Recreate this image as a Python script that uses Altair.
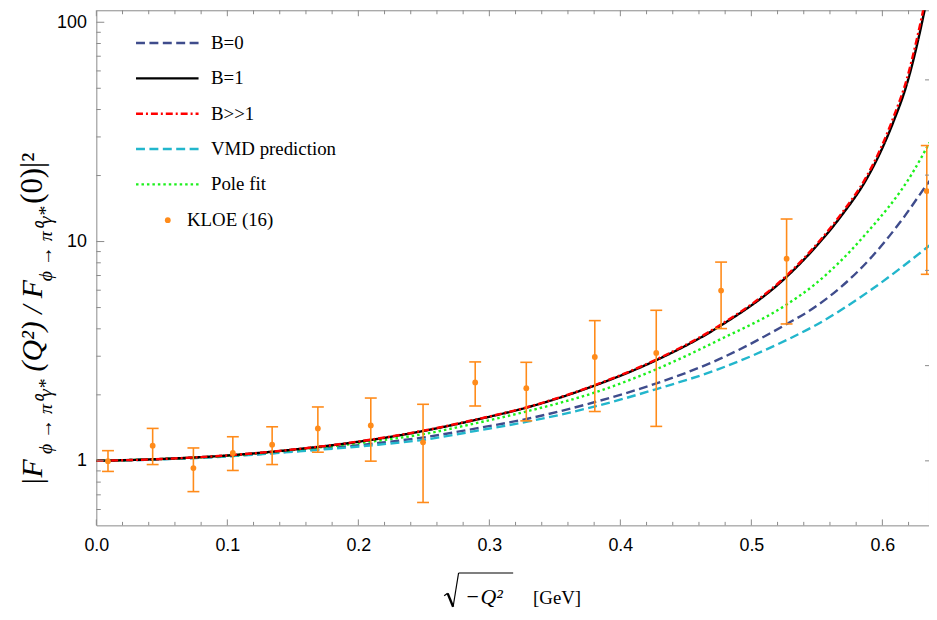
import altair as alt
import pandas as pd

# ---------------- data ----------------
series_names = ["B=0", "B=1", "B>>1", "VMD prediction", "Pole fit"]

b1_x = [0, 0.05, 0.1, 0.15, 0.2, 0.25, 0.29, 0.33, 0.38, 0.427, 0.475, 0.5267, 0.548,
        0.5695, 0.5873, 0.5991, 0.6087, 0.6188, 0.6271, 0.6327, 0.636]
b1_y = [1.0, 1.02, 1.058, 1.125, 1.222, 1.37, 1.54, 1.76, 2.2, 2.87, 4.08, 6.89, 9.3,
        13.3, 19.0, 26.0, 35.5, 52.5, 82.0, 117.0, 146.0]

bb_x = b1_x
bb_y = [1.0, 1.02, 1.059, 1.126, 1.225, 1.375, 1.545, 1.765, 2.21, 2.89, 4.12, 6.98, 9.45,
        13.6, 19.5, 26.9, 37.2, 55.5, 88.0, 126.0, 160.0]

pole_x = [0, 0.05, 0.1, 0.15, 0.215, 0.25, 0.29, 0.33, 0.38, 0.427, 0.475, 0.5267, 0.548,
          0.586, 0.6238, 0.636]
pole_y = [1.0, 1.02, 1.055, 1.12, 1.236, 1.325, 1.486, 1.689, 2.045, 2.61, 3.55, 5.15, 6.35,
          10.6, 20.95, 28.3]

b0_x = [0, 0.05, 0.1, 0.15, 0.215, 0.25, 0.29, 0.33, 0.38, 0.427, 0.475, 0.5267, 0.548,
        0.591, 0.6138, 0.634, 0.636]
b0_y = [1.0, 1.018, 1.05, 1.105, 1.206, 1.28, 1.406, 1.56, 1.85, 2.25, 2.9, 4.2, 5.0,
        8.4, 12.3, 18.2, 18.9]

vmd_x = [0, 0.05, 0.1, 0.15, 0.215, 0.25, 0.29, 0.33, 0.38, 0.427, 0.475, 0.5267, 0.548,
         0.591, 0.636]
vmd_y = [1.0, 1.017, 1.048, 1.10, 1.185, 1.248, 1.371, 1.513, 1.767, 2.12, 2.62, 3.55, 4.12,
         6.0, 9.6]

kloe_x = [0.0089, 0.043, 0.0741, 0.1042, 0.1342, 0.1691, 0.2095, 0.2494, 0.2892, 0.3282,
          0.3805, 0.4274, 0.4769, 0.5269, 0.6339]
kloe_y = [0.997, 1.173, 0.927, 1.087, 1.185, 1.406, 1.45, 1.215, 2.278, 2.146,
          2.977, 3.104, 5.98, 8.35, 17.0]
kloe_hi = [1.113, 1.406, 1.145, 1.288, 1.43, 1.761, 1.934, 1.811, 2.826, 2.814,
           4.36, 4.859, 8.06, 12.67, 27.4]
kloe_lo = [0.895, 0.962, 0.724, 0.904, 0.962, 1.095, 0.997, 0.646, 1.779, 1.522,
           1.679, 1.436, 4.01, 4.21, 7.09]

x_major = [0.0, 0.1, 0.2, 0.3, 0.4, 0.5, 0.6]
x_minor = [0.02, 0.04, 0.06, 0.08, 0.12, 0.14, 0.16, 0.18, 0.22, 0.24, 0.26, 0.28,
           0.32, 0.34, 0.36, 0.38, 0.42, 0.44, 0.46, 0.48, 0.52, 0.54, 0.56, 0.58, 0.62]
y_major = [1, 10, 100]
y_minor = [0.6, 0.7, 0.8, 0.9, 2, 3, 4, 5, 6, 7, 8, 9, 20, 30, 40, 50, 60, 70, 80, 90]
y_right = [1, 2.718, 7.389, 20.09, 54.6]

# ---------------- styling ----------------
W, H = 839, 519
XMAX = 0.6356
YMIN, YMAX = 0.508, 113.4
FRAME = "#8a8a8a"
ORANGE = "#ff8b1a"
colors = ["#3f4c8c", "#000000", "#ff0000", "#22b6cc", "#1cf01c"]
dashes = [[9, 4.5], [1, 0], [7, 3, 2, 3], [9, 4.5], [2.5, 3]]
SERIF = "Liberation Serif"
SANS = "Liberation Sans"

xs = alt.Scale(domain=[0, XMAX], nice=False, zero=False)
ys = alt.Scale(type="log", domain=[YMIN, YMAX], nice=False)
AX = alt.Axis(values=x_major, format=".1f", title=None, ticks=False, domain=False,
              grid=False, labelFont=SANS, labelFontSize=18, labelColor="black",
              labelPadding=11, labelFlush=False)
AY = alt.Axis(values=y_major, format="d", title=None, ticks=False, domain=False,
              grid=False, labelFont=SANS, labelFontSize=18, labelColor="black",
              labelPadding=10, labelFlush=False)


def X(f):
    return alt.X(f, scale=xs, axis=AX)


def Y(f):
    return alt.Y(f, scale=ys, axis=AY)


rows = []
for name, xv, yv in [("B=0", b0_x, b0_y), ("B=1", b1_x, b1_y), ("B>>1", bb_x, bb_y),
                     ("VMD prediction", vmd_x, vmd_y), ("Pole fit", pole_x, pole_y)]:
    for a, b in zip(xv, yv):
        rows.append({"x": a, "y": b, "series": name})
lines_df = pd.DataFrame(rows)

leg_lines = alt.Legend(title=None, orient="none", legendX=59.5, legendY=21,
                       symbolType="M-3,0H3", symbolSize=441, symbolStrokeWidth=2.4,
                       labelFont=SERIF, labelFontSize=19, labelColor="black",
                       labelOffset=32, rowPadding=13.6, padding=0)


def line_layer(name):
    return alt.Chart(lines_df).transform_filter(alt.datum.series == name).mark_line(
        strokeWidth=2.4, clip=True, interpolate="monotone").encode(
        x=X("x:Q"), y=Y("y:Q"),
        color=alt.Color("series:N", scale=alt.Scale(domain=series_names, range=colors),
                        legend=leg_lines),
        strokeDash=alt.StrokeDash("series:N",
                                  scale=alt.Scale(domain=series_names, range=dashes),
                                  legend=leg_lines),
    )


pts_df = pd.DataFrame({"x": kloe_x, "y": kloe_y, "lo": kloe_lo, "hi": kloe_hi,
                       "kind": ["KLOE (16)"] * len(kloe_x)})

bars = alt.Chart(pts_df).mark_rule(color=ORANGE, strokeWidth=1.6).encode(
    x=X("x:Q"), y=Y("lo:Q"), y2="hi:Q")
cap_lo = alt.Chart(pts_df).mark_tick(color=ORANGE, orient="horizontal", size=12,
                                     thickness=1.6, opacity=1).encode(x=X("x:Q"), y=Y("lo:Q"))
cap_hi = alt.Chart(pts_df).mark_tick(color=ORANGE, orient="horizontal", size=12,
                                     thickness=1.6, opacity=1).encode(x=X("x:Q"), y=Y("hi:Q"))
dots = alt.Chart(pts_df).mark_circle(size=34, opacity=1).encode(
    x=X("x:Q"), y=Y("y:Q"),
    fill=alt.Fill("kind:N", scale=alt.Scale(domain=["KLOE (16)"], range=[ORANGE]),
                  legend=alt.Legend(title=None, orient="none", legendX=62.5, legendY=202,
                                    symbolType="circle", symbolSize=34,
                                    symbolStrokeWidth=0, labelFont=SERIF,
                                    labelFontSize=19, labelColor="black",
                                    labelOffset=9.8, padding=0)))


def xticks(vals, y0, y1):
    return alt.Chart(pd.DataFrame({"v": vals})).mark_rule(color=FRAME, strokeWidth=1).encode(
        x=X("v:Q"), y=alt.value(y0), y2=alt.value(y1))


def yticks(vals, x0, x1):
    return alt.Chart(pd.DataFrame({"v": vals})).mark_rule(color=FRAME, strokeWidth=1).encode(
        y=Y("v:Q"), x=alt.value(x0), x2=alt.value(x1))


ticks = [
    xticks(x_major, H, H - 6), xticks(x_minor, H, H - 3.5),
    xticks(x_major, 0, 6), xticks(x_minor, 0, 4),
    yticks(y_major, 0, 8), yticks(y_minor, 0, 4.5),
    yticks(y_right, W, W - 4),
]

one = pd.DataFrame({"k": [0]})


def txt(s, x, y, size, italic=False, angle=0, align="left", font=SERIF,
        baseline="alphabetic"):
    kw = dict(text=s, font=font, fontSize=size, align=align, baseline=baseline,
              color="black")
    if italic:
        kw["fontStyle"] = "italic"
    if angle:
        kw["angle"] = angle
    return alt.Chart(one).mark_text(**kw).encode(x=alt.value(x), y=alt.value(y))


def seg(x1, y1, x2, y2, w):
    return alt.Chart(one).mark_rule(color="black", strokeWidth=w).encode(
        x=alt.value(x1 - 97), y=alt.value(y1 - 8), x2=alt.value(x2 - 97),
        y2=alt.value(y2 - 8))


# y-axis title pieces (rotated, reading upward)
XB, XS = 42 - 97, 52 - 97
SUB = "\u03d5 \u2192 \u03c0\u2070\u03b3*"
ytitle = [
    txt("|F", XB, 487 - 8, 30, italic=True, angle=270),
    txt(SUB, XS, 455 - 8, 20, italic=True, angle=270),
    txt("(Q\u00b2) / F", XB, 372 - 8, 30, italic=True, angle=270),
    txt(SUB, XS, 281 - 8, 20, italic=True, angle=270),
    txt("(0)|\u00b2", XB, 203 - 8, 31, angle=270),
]

# x-axis title pieces: radical drawn as strokes, then text
xtitle = [
    seg(447.5, 598, 451, 595.5, 1.2),
    seg(451, 595.5, 456.5, 609, 2.4),
    seg(456.5, 609, 462, 575, 1.2),
    seg(462, 575, 517, 575, 1.2),
    txt("\u2212", 470 - 97, 606 - 8, 22),
    txt("Q\u00b2", 484 - 97, 606 - 8, 22, italic=True),
    txt("[GeV]", 537 - 97, 606 - 8, 19),
]

layers = ([line_layer("B=0"), line_layer("VMD prediction"), line_layer("Pole fit"),
           line_layer("B=1"), line_layer("B>>1")]
          + [bars, cap_lo, cap_hi, dots] + ticks + ytitle + xtitle)

chart = alt.layer(*layers).properties(
    width=W, height=H,
    padding={"left": 89, "top": 0, "right": 0, "bottom": 85},
    autosize=alt.AutoSizeParams(type="none"),
).configure_view(stroke=FRAME, strokeWidth=1)

chart.save("out.html", embed_options={"renderer": "svg", "actions": False})
